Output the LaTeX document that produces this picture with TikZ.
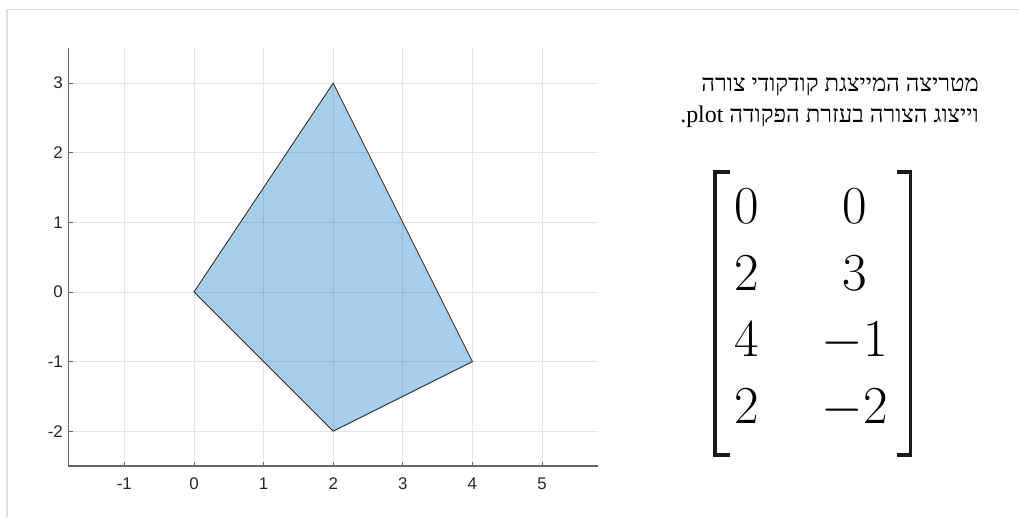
\RequirePackage{fix-cm}
\documentclass[tikz,border=0pt]{standalone}
\usepackage{fontspec}
\usepackage{amsmath}
\usepackage{tikz}
\usetikzlibrary{positioning}
\TeXXeTstate=1
\newfontfamily\axfont{Liberation Sans}
\newfontfamily\hebfont[Script=Hebrew]{Liberation Serif}
\definecolor{polyblue}{RGB}{0,114,189}
\tikzset{
  frame/.style  ={draw=black!13,line width=1.2pt},
  gridln/.style ={draw=black!10,line width=0.5pt},
  axis/.style   ={draw=black!60,line width=0.8pt},
  tck/.style    ={draw=black!60,line width=0.6pt},
  shp/.style    ={fill=polyblue,fill opacity=0.35,draw=black!85,line width=0.6pt},
  ticklbl/.style={font=\axfont\fontsize{12}{14}\selectfont,inner sep=0pt,text=black!85},
  heb/.style    ={font=\hebfont\fontsize{17}{21}\selectfont,inner sep=0pt},
  brk/.style    ={draw=black!90,line width=2.6pt},
}

\begin{document}
\begin{tikzpicture}[x=1.74cm,y=1.74cm]
  \useasboundingbox (-2.787,-3.233) rectangle (11.853,4.195);
  \draw[frame] (-2.687,-3.233) -- (-2.687,4.059) -- (11.853,4.059);
  % grid
  \foreach \i in {-1,...,5}{\draw[gridln] (\i,-2.5) -- (\i,3.5);}
  \foreach \j in {-2,...,3}{\draw[gridln] (-1.8,\j) -- (5.8,\j);}
  % polygon
  \coordinate (v1) at (0,0);
  \coordinate (v2) at (2,3);
  \coordinate (v3) at (4,-1);
  \coordinate (v4) at (2,-2);
  \filldraw[shp] (v1) -- (v2) -- (v3) -- (v4) -- cycle;
  % axes and ticks
  \coordinate (o) at (-1.8,-2.5);
  \coordinate (xe) at (5.8,-2.5);
  \coordinate (ye) at (-1.8,3.5);
  \draw[axis] (ye) -- (o) -- (xe);
  \foreach \i in {-1,...,5}{
    \draw[tck] (\i,-2.5) -- (\i,-2.44);
    \node[ticklbl] (xl\i) at (\i,-2.76) {\i};}
  \foreach \j in {-2,...,3}{
    \draw[tck] (-1.8,\j) -- (-1.74,\j);
    \node[ticklbl,anchor=east] (yl\j) at (-1.88,\j) {\j};}
  % caption
  \node[heb,anchor=base east] (line1) at (11.28,2.874)
    {\beginR מטריצה המייצגת קודקודי צורה\endR};
  \node[heb,anchor=base east] (line2) at (11.28,2.428)
    {\beginR וייצוג הצורה בעזרת הפקודה \beginL plot\endL.\endR};
  % matrix
  \node[inner sep=0pt] (mat) at (8.865,-0.26)
    {\fontsize{38}{47.5}\selectfont$\setlength\arraycolsep{22.3pt}
     \begin{matrix}0&0\\2&3\\4&-1\\2&-2\end{matrix}$};
  \draw[brk] (7.70,1.724) -- (7.486,1.724) -- (7.486,-2.342) -- (7.70,-2.342);
  \draw[brk] (10.10,1.724) -- (10.294,1.724) -- (10.294,-2.342) -- (10.10,-2.342);
\end{tikzpicture}
\end{document}
